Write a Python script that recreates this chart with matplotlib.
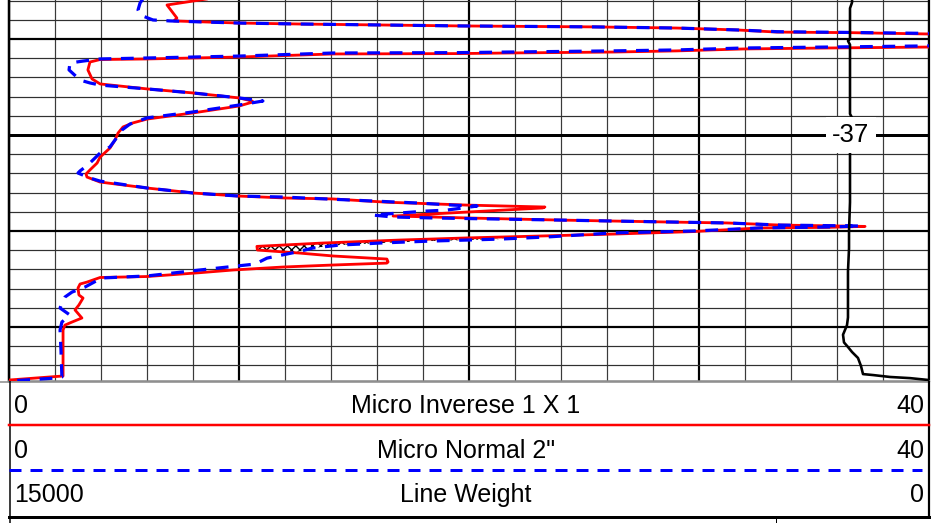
import numpy as np
import matplotlib.pyplot as plt

plt.rcParams['font.family'] = ['Liberation Sans', 'DejaVu Sans']

inv_depth = [-44.14, -44.03, -43.77, -43.09, -42.94, -42.83, -42.78, -42.68, -42.63, -42.57,
             -42.47, -42.36, -42.33, -42.26, -41.92, -41.58, -41.53, -41.48, -41.38, -41.32,
             -41.27, -41.24, -41.22, -41.06, -40.96, -40.93, -40.80, -40.39, -39.92, -39.66,
             -39.40, -39.19, -38.93, -38.77, -38.72, -38.51, -38.15, -37.83, -37.63, -37.42,
             -37.10, -36.74, -36.32, -35.85, -35.54, -35.18, -34.97, -34.81, -34.55, -34.24,
             -33.98, -33.82, -33.72, -33.67, -33.50, -33.35, -33.25, -33.20, -32.78, -32.73,
             -32.68, -32.57, -32.52, -32.47, -32.42, -32.31, -32.24, -32.19, -32.16, -31.97,
             -31.84, -31.74, -31.64, -31.53, -31.375, -31.20, -31.01, -30.85, -30.70, -30.54,
             -30.39, -30.33, -30.23, -30.125, -29.97, -29.83, -29.63, -29.58, -29.34, -29.24,
             -29.03, -28.67, -28.51, -28.15, -27.89, -27.47, -27.26, -27.10, -26.84, -24.45,
             -24.42, -24.24]
inv_value = [8.9, 8.30, 6.87, 7.30, 7.17, 10.0, 12.65, 19.61, 25.39, 29.04,
             31.65, 33.39, 36.57, 40.0, 62.0, 40.0, 35.57, 31.91, 29.04, 26.26,
             21.65, 19.61, 14.09, 10.0, 6.0, 3.96, 3.52, 3.43, 3.61, 3.96,
             6.0, 8.0, 10.0, 10.57, 10.61, 10.0, 8.0, 6.0, 5.39, 4.96,
             4.74, 4.61, 4.39, 3.96, 3.83, 3.52, 3.35, 3.39, 3.96, 6.0,
             8.0, 10.0, 12.0, 14.09, 16.43, 19.91, 23.30, 23.2, 16.70, 18.43,
             19.91, 23.96, 26.26, 28.61, 31.22, 33.52, 37.22, 35.57, 32.65, 29.74,
             26.26, 23.09, 19.91, 17.0, 13.65, 10.78, 10.8, 12.65, 14.09, 16.43,
             16.48, 16.43, 14.09, 11.91, 9.74, 8.30, 6.0, 3.96, 3.39, 3.09,
             3.0, 3.04, 3.22, 3.04, 2.87, 3.17, 2.74, 2.43, 2.35, 2.35,
             2.0, 0.0]

nor_depth = [-44.10, -43.88, -43.51, -43.25, -42.99, -42.94, -42.83, -42.78, -42.68, -42.63,
             -42.57, -42.47, -42.38, -42.34, -42.29, -41.95, -41.64, -41.58, -41.53, -41.43,
             -41.38, -41.32, -41.29, -41.27, -41.11, -41.01, -40.96, -40.85, -40.75, -40.39,
             -39.86, -39.71, -39.60, -39.40, -39.19, -38.93, -38.77, -38.56, -38.20, -37.89,
             -37.57, -37.26, -36.74, -36.38, -36.06, -35.44, -35.13, -35.02, -34.76, -34.60,
             -34.24, -33.98, -33.82, -33.77, -33.46, -33.35, -33.30, -33.09, -33.04, -32.89,
             -32.83, -32.73, -32.68, -32.57, -32.52, -32.42, -32.31, -32.26, -32.21, -32.16,
             -32.0, -31.90, -31.69, -31.58, -31.53, -31.48, -31.43, -31.375, -31.32, -31.27,
             -31.115, -30.91, -30.59, -30.28, -29.97, -29.66, -29.55, -29.45, -29.08, -28.82,
             -28.56, -28.25, -27.99, -27.625, -27.26, -26.84, -25.80, -24.40, -24.34, -24.19]
nor_value = [5.83, 5.70, 5.61, 5.70, 6.26, 7.0, 10.0, 12.65, 19.61, 25.39,
             29.04, 31.65, 33.39, 36.57, 40.0, 60.0, 40.0, 35.57, 31.91, 29.04,
             26.26, 21.65, 19.61, 14.09, 10.0, 6.0, 3.96, 3.22, 2.65, 2.61,
             3.09, 3.52, 3.96, 6.0, 8.0, 10.0, 11.04, 10.0, 8.0, 6.0,
             5.26, 4.91, 4.61, 4.39, 3.96, 3.43, 3.09, 3.0, 3.52, 3.96,
             6.0, 8.0, 10.0, 11.91, 17.74, 19.30, 20.35, 19.04, 18.17, 16.43,
             15.83, 16.70, 18.43, 23.96, 26.26, 31.22, 33.52, 37.0, 35.57, 32.65,
             29.74, 26.26, 23.39, 21.35, 19.91, 18.43, 17.30, 16.13, 15.26, 14.39,
             13.22, 12.52, 11.22, 10.70, 8.30, 6.0, 3.96, 3.87, 3.30, 2.74,
             2.43, 2.30, 2.22, 2.65, 2.30, 2.22, 2.26, 2.30, 2.0, 0.0]

wt_depth = [-44.1, -43.9, -43.6, -42.0, -41.9, -41.7, -38.1, -37.9, -37.7, -33.5,
            -32.0, -31.1, -29.9, -27.5, -27.1, -26.6, -26.2, -25.96, -25.7, -25.39,
            -24.97, -24.55, -24.50, -24.40, -24.34, -24.24]
wt_value = [1255, 1255, 1288, 1288, 1321, 1288, 1288, 1255, 1288, 1288,
            1304, 1304, 1321, 1321, 1337, 1402, 1386, 1321, 1255, 1158,
            1109, 1076, 913, 636, 310, 0]

depth_top, depth_bottom = -44.03, -24.19
marker_depth = -37
medium_depths = [-42, -32, -27]
track_min, track_max = 0, 40
weight_left, weight_right = 15000, 0

curve_names = ['Micro Inverese 1 X 1', 'Micro Normal 2"', 'Line Weight']
scale_left = ['0', '0', '15000']
scale_right = ['40', '40', '0']

px = 0.72  # one pixel in points at dpi 100

fig = plt.figure(figsize=(9.39, 5.23), dpi=100)
ax = fig.add_axes([9 / 939, 142 / 523, 920 / 939, 381 / 523])
ax.set_xlim(track_min, track_max)
ax.set_ylim(depth_bottom, depth_top)
ax.tick_params(length=0, labelbottom=False, labelleft=False)

# grid
for v in np.arange(track_min, track_max + 1, 2):
    major = v % 10 == 0
    ax.axvline(v, color='black' if major else '#3a3a3a', lw=(2.2 if major else 1.2) * px, zorder=1)
for d in np.arange(np.ceil(depth_top), depth_bottom, 1):
    if d == marker_depth:
        lw, c = 3, 'black'
    elif d in medium_depths:
        lw, c = 2.2, 'black'
    else:
        lw, c = 1.2, '#303030'
    ax.axhline(d, color=c, lw=lw * px, zorder=1)

ax.spines['top'].set_visible(False)
ax.spines['left'].set_linewidth(2.5 * px)
ax.spines['right'].set_linewidth(2.2 * px)
ax.spines['bottom'].set_color('#888888')
ax.spines['bottom'].set_linewidth(1.5 * px)

# checker fill where inverse reads below normal
fd = np.linspace(-31.6, -30.9, 300)
fr = np.interp(fd, inv_depth, inv_value)
fb = np.interp(fd, nor_depth, nor_value)
ax.fill_betweenx(fd, fr, fb, where=fr < fb, facecolor='white', edgecolor='black',
                 hatch='xxxx', lw=0, zorder=2)

ax.plot(inv_value, inv_depth, color='red', lw=2.8 * px, zorder=3)
ax.plot(nor_value, nor_depth, color='blue', lw=3.2 * px, ls=(0, (4, 3)), zorder=4)

wax = ax.twiny()
wax.set_xlim(weight_left, weight_right)
wax.set_axis_off()
wax.plot(wt_value, wt_depth, color='black', lw=2.6 * px)
wax.text(36.6, marker_depth, str(marker_depth), transform=ax.transData, fontsize=18.5,
         ha='center', va='center',
         bbox=dict(boxstyle='square,pad=0.25', fc='white', ec='none'))

# header with scales
hax = fig.add_axes([0, 0, 1, 142 / 523])
hax.set_xlim(0, 939)
hax.set_ylim(523, 381)
hax.set_axis_off()
hax.plot([0, 929], [381.5, 381.5], color='#888888', lw=1.5 * px)
hax.plot([9.5, 9.5], [381, 523], color='black', lw=1.5 * px)
hax.plot([928.5, 928.5], [381, 517], color='black', lw=2.2 * px)
hax.plot([9, 929], [516.5, 516.5], color='black', lw=3 * px)
hax.plot([776, 776], [517, 523], color='black', lw=1 * px)
hax.plot([9, 929], [425, 425], color='red', lw=2.5 * px)
hax.plot([9, 922], [470, 470], color='blue', lw=3 * px, ls=(0, (4, 3)))

baselines = [413, 457.5, 502]
for name, lo, hi, yb in zip(curve_names, scale_left, scale_right, baselines):
    hax.text(14, yb, lo, ha='left', va='baseline', fontsize=18)
    hax.text(924, yb, hi, ha='right', va='baseline', fontsize=18)
    hax.text(466, yb, name, ha='center', va='baseline', fontsize=18)

fig.savefig('out.png', dpi=100)
